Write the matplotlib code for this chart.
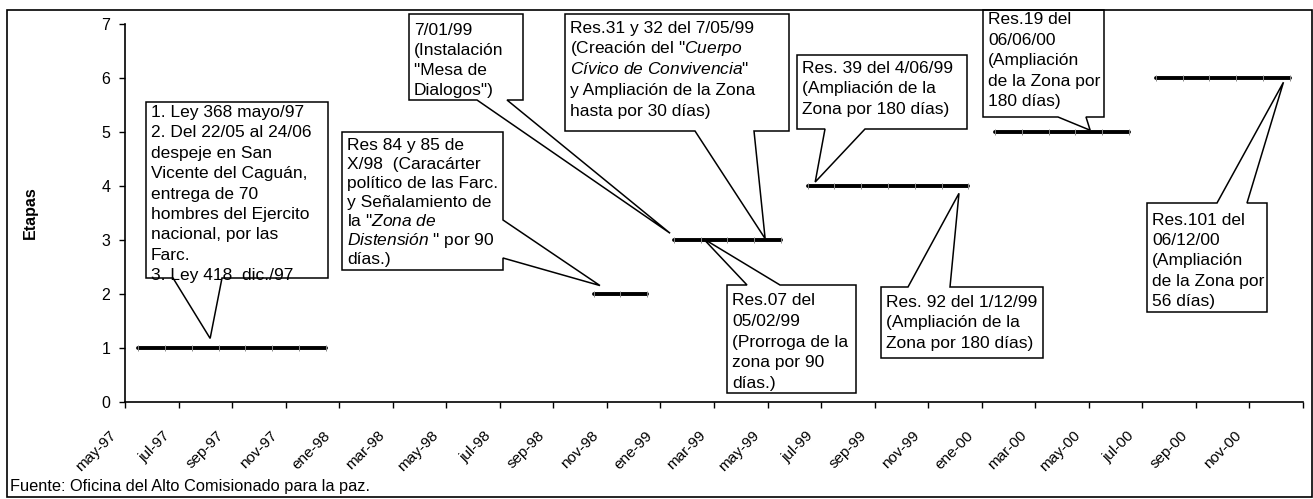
import numpy as np
import matplotlib
matplotlib.use('Agg')
import matplotlib.pyplot as plt
from matplotlib.patches import Polygon, Rectangle
from matplotlib.transforms import ScaledTranslation

plt.rcParams['font.family'] = ['Liberation Sans', 'DejaVu Sans']
plt.rcParams['mathtext.fontset'] = 'custom'
plt.rcParams['mathtext.rm'] = 'Liberation Sans'
plt.rcParams['mathtext.it'] = 'Liberation Sans:italic'

nan = np.nan
# etapa vigente en cada mes, de may-97 a dic-00 (44 meses)
etapa = [1, 1, 1, 1, 1, 1, 1, 1,                      # may-97 .. dic-97
         nan, nan, nan, nan, nan, nan, nan, nan, nan,  # ene-98 .. sep-98
         2, 2, 2,                                     # oct-98 .. dic-98
         3, 3, 3, 3, 3,                               # ene-99 .. may-99
         4, 4, 4, 4, 4, 4, 4,                         # jun-99 .. dic-99
         5, 5, 5, 5, 5, 5,                            # ene-00 .. jun-00
         6, 6, 6, 6, 6, 6]                            # jul-00 .. dic-00

etiquetas = ['may-97', 'jul-97', 'sep-97', 'nov-97', 'ene-98', 'mar-98',
             'may-98', 'jul-98', 'sep-98', 'nov-98', 'ene-99', 'mar-99',
             'may-99', 'jul-99', 'sep-99', 'nov-99', 'ene-00', 'mar-00',
             'may-00', 'jul-00', 'sep-00', 'nov-00']

# textos de los globos (*...* = cursiva)
txt_ley = ['1. Ley 368 mayo/97', '2. Del 22/05 al 24/06', 'despeje en San',
           'Vicente del Caguán,', 'entrega de 70', 'hombres del Ejercito',
           'nacional, por las', 'Farc.', '3. Ley 418  dic./97']
txt_res84 = ['Res 84 y 85 de', 'X/98  (Caracárter', 'político de las Farc.',
             'y Señalamiento de', 'la "*Zona de*', '*Distensión* " por 90', 'días.)']
txt_mesa = ['7/01/99', '(Instalación', '"Mesa de', 'Dialogos")']
txt_res31 = ['Res.31 y 32 del 7/05/99', '(Creación del "*Cuerpo*',
             '*Cívico de Convivencia*"', 'y Ampliación de la Zona', 'hasta por 30 días)']
txt_res39 = ['Res. 39 del 4/06/99', '(Ampliación de la', 'Zona por 180 días)']
txt_res07 = ['Res.07 del', '05/02/99', '(Prorroga de la', 'zona por 90', 'días.)']
txt_res92 = ['Res. 92 del 1/12/99', '(Ampliación de la', 'Zona por 180 días)']
txt_res19 = ['Res.19 del', '06/06/00', '(Ampliación', 'de la Zona por', '180 días)']
txt_res101 = ['Res.101 del', '06/12/00', '(Ampliación', 'de la Zona por', '56 días)']

# caja en pixeles (izq, arriba, der, abajo), lado y base de la cola, punta en datos
globos = [
    dict(caja=(146, 102, 328, 278), lado='bottom', base=(173, 222), punta=(2.68, 1.17),
         primera=15, paso=20.4, texto=txt_ley),
    dict(caja=(342, 132, 503, 270), lado='right', base=(220, 258), punta=(17.24, 2.15),
         primera=17.6, paso=19.1, texto=txt_res84),
    dict(caja=(409, 14, 523, 100), lado='bottom', base=(477, 507), punta=(19.86, 3.12),
         primera=21, paso=20, texto=txt_mesa),
    dict(caja=(565, 14, 789, 131), lado='bottom', base=(695, 754), punta=(23.41, 3.02),
         primera=18.7, paso=20.8, texto=txt_res31),
    dict(caja=(797, 55, 967, 129), lado='bottom', base=(825, 865), punta=(25.28, 4.07),
         primera=17.7, paso=20.8, texto=txt_res39),
    dict(caja=(727, 285, 856, 393), lado='top', base=(747, 780), punta=(21.1, 3.02),
         primera=20, paso=20.8, texto=txt_res07),
    dict(caja=(881, 287, 1043, 358), lado='top', base=(908, 950), punta=(30.65, 3.86),
         primera=19.7, paso=20.8, texto=txt_res92),
    dict(caja=(983, 10, 1104, 117), lado='bottom', base=(1058, 1086), punta=(35.55, 5.03),
         primera=14.5, paso=20.4, texto=txt_res19),
    dict(caja=(1147, 203, 1267, 312), lado='top', base=(1217, 1247), punta=(42.77, 5.92),
         primera=21.6, paso=20.4, texto=txt_res101),
]

W, H = 1313, 499
fig = plt.figure(figsize=(W / 100, H / 100), dpi=100)
ax = fig.add_axes([125 / W, 1 - 401.5 / H, 1178 / W, 377.5 / H])


def fig_xy(px, py):
    return (px / W, 1 - py / H)


def cursiva(s):
    partes = s.split('*')
    out = ''
    for k, p in enumerate(partes):
        if k % 2:
            out += r'$\mathit{' + p.replace(' ', r'\ ') + '}$'
        else:
            out += p
    return out


x = np.arange(len(etapa))
y = np.array(etapa, dtype=float)
for nivel in np.unique(y[~np.isnan(y)]):
    sel = y == nivel
    ax.plot(x[sel], y[sel], color='black', lw=2.8, solid_capstyle='round',
            marker='|', ms=4, mec='#8a8a8a', mew=0.7, zorder=3)

ax.set_xlim(-0.5, len(etapa) - 0.5)
ax.set_ylim(0, 7)
ax.set_yticks(range(8))
for s in ['top', 'right']:
    ax.spines[s].set_visible(False)
for s in ['left', 'bottom']:
    ax.spines[s].set_linewidth(1.2)
ax.tick_params(axis='y', direction='out', length=4.5, width=1, labelsize=11.5, pad=6)
ax.set_xticks(np.arange(-0.5, len(etapa), 2))
ax.tick_params(axis='x', which='major', direction='out', length=4.5, width=1,
               labelbottom=False)
ax.set_xticks(x[::2], etiquetas, minor=True)
ax.tick_params(axis='x', which='minor', length=0, pad=23, labelsize=11)
desplaza = ScaledTranslation(-24 / 100, 0, fig.dpi_scale_trans)
for lab in ax.get_xticklabels(minor=True):
    lab.set_rotation(45)
    lab.set_rotation_mode('anchor')
    lab.set_ha('right')
    lab.set_va('center')
    lab.set_transform(lab.get_transform() + desplaza)

ax.set_ylabel('Etapas', fontsize=11.5, fontweight='bold')
ax.yaxis.set_label_coords(-0.074, 0.5)

fig.text(*fig_xy(10, 487), 'Fuente: Oficina del Alto Comisionado para la paz.',
         fontsize=11.8, va='center', ha='left')

# globos de texto
inv = fig.transFigure.inverted()
for g in globos:
    L, T, R, B = g['caja']
    a, b = g['base']
    fx, fy = inv.transform(ax.transData.transform(g['punta']))
    p = (fx * W, (1 - fy) * H)
    if g['lado'] == 'bottom':
        pts = [(L, T), (R, T), (R, B), (b, B), p, (a, B), (L, B)]
    elif g['lado'] == 'top':
        pts = [(L, T), (a, T), p, (b, T), (R, T), (R, B), (L, B)]
    else:
        pts = [(L, T), (R, T), (R, a), p, (R, b), (R, B), (L, B)]
    poly = Polygon([fig_xy(*q) for q in pts], closed=True, transform=fig.transFigure,
                   fc='white', ec='black', lw=1.1, zorder=5, clip_on=False)
    ax.add_patch(poly)
    recorte = Rectangle(fig_xy(L, B), (R - L) / W, (B - T) / H, transform=fig.transFigure)
    for k, linea in enumerate(g['texto']):
        t = ax.text(*fig_xy(L + 5, T + g['primera'] + k * g['paso']), cursiva(linea),
                    transform=fig.transFigure, fontsize=12.5, ha='left', va='baseline',
                    zorder=6)
        t.set_clip_path(recorte)

fig.add_artist(Rectangle(fig_xy(7, 497), 1305 / W, 487 / H, transform=fig.transFigure,
                         fill=False, ec='black', lw=1.2))

fig.savefig('out.png', dpi=100)
